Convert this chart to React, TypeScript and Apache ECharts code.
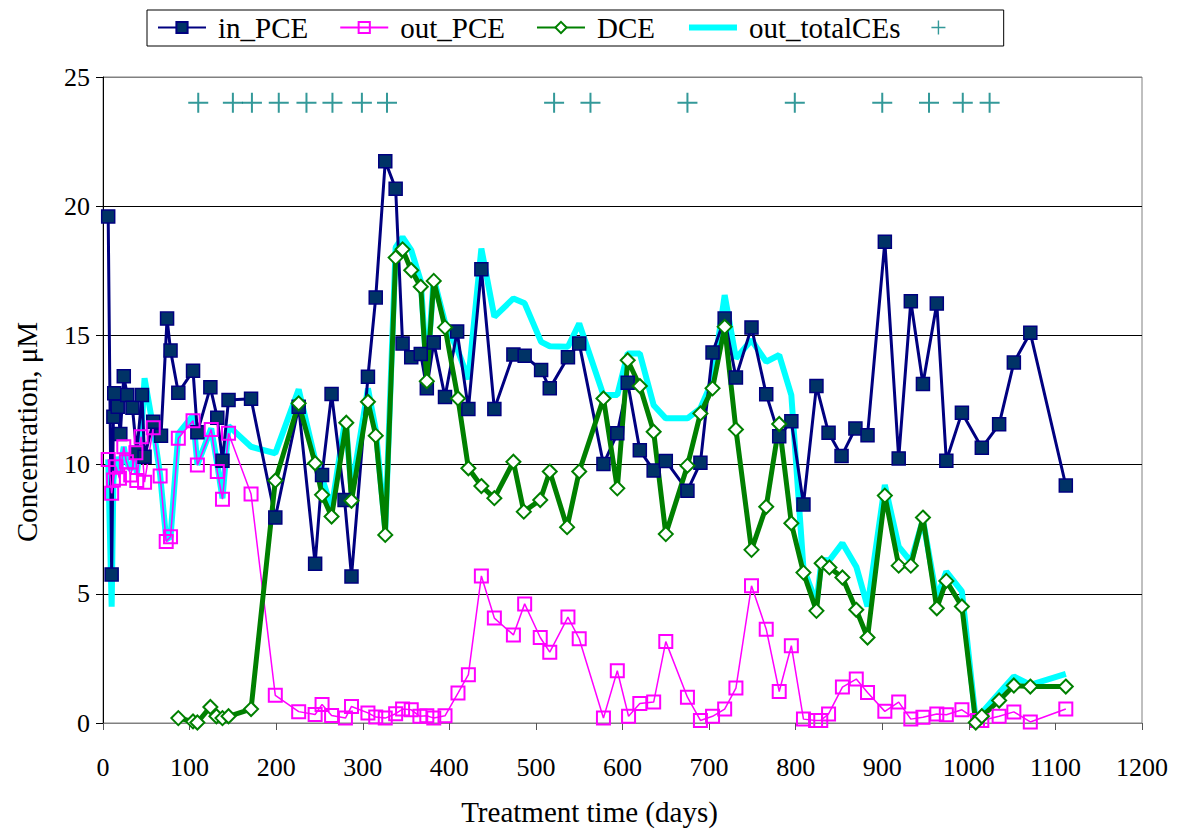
import React, { useEffect, useRef } from "react";
import * as echarts from "echarts";

// Influent PCE concentration [day, µM]
const inPCE: [number, number][] = [
  [6, 19.6], [10, 5.75], [12, 11.85], [13, 12.76], [17, 12.24], [20, 11.18], [24, 13.42], [28, 12.69],
  [34, 12.2], [39, 10.46], [45, 12.69], [48, 10.3], [58, 11.66], [67, 11.12], [74, 15.65], [78, 14.42],
  [87, 12.78], [104, 13.63], [109, 11.25], [124, 12.99], [132, 11.81], [138, 10.15], [145, 12.5],
  [171, 12.55], [199, 7.95], [226, 12.24], [245, 6.16], [253, 9.6], [264, 12.73], [279, 8.63],
  [287, 5.67], [306, 13.4], [315, 16.47], [326, 21.74], [338, 20.68], [346, 14.69], [356, 14.15],
  [367, 14.28], [374, 12.95], [382, 14.73], [395, 12.62], [409, 15.15], [422, 12.15], [437, 17.56],
  [452, 12.15], [474, 14.26], [487, 14.21], [506, 13.66], [516, 12.95], [537, 14.15], [550, 14.69],
  [578, 10.02], [594, 11.21], [606, 13.17], [620, 10.56], [636, 9.77], [650, 10.14], [675, 8.99],
  [690, 10.07], [704, 14.34], [718, 15.65], [731, 13.37], [749, 15.31], [766, 12.72], [781, 11.1],
  [795, 11.68], [809, 8.46], [824, 13.04], [838, 11.23], [853, 10.33], [869, 11.4], [883, 11.14],
  [903, 18.62], [919, 10.24], [933, 16.32], [947, 13.12], [963, 16.23], [974, 10.15], [992, 12.01],
  [1015, 10.65], [1035, 11.56], [1052, 13.95], [1071, 15.1], [1112, 9.19],
];

// Effluent PCE concentration [day, µM]
const outPCE: [number, number][] = [
  [6, 10.2], [10, 8.89], [12, 9.4], [15, 9.92], [19, 9.47], [24, 10.69], [27, 10.11], [32, 9.6],
  [38, 10.46], [39, 9.38], [44, 11.08], [48, 9.32], [58, 11.43], [66, 9.56], [73, 7.02], [78, 7.21],
  [87, 11.02], [104, 11.7], [109, 9.98], [125, 11.36], [132, 9.73], [138, 8.66], [145, 11.21],
  [171, 8.86], [199, 1.07], [226, 0.44], [245, 0.33], [253, 0.72], [264, 0.29], [280, 0.19],
  [287, 0.64], [306, 0.39], [315, 0.23], [326, 0.19], [338, 0.36], [346, 0.54], [356, 0.51],
  [366, 0.26], [374, 0.28], [382, 0.19], [395, 0.28], [410, 1.16], [422, 1.87], [437, 5.69],
  [452, 4.06], [474, 3.41], [487, 4.61], [505, 3.31], [516, 2.74], [537, 4.1], [550, 3.26],
  [578, 0.19], [594, 2.02], [607, 0.26], [620, 0.75], [636, 0.81], [650, 3.15], [675, 1.0],
  [690, 0.1], [704, 0.26], [718, 0.54], [731, 1.35], [749, 5.31], [766, 3.63], [781, 1.22],
  [795, 2.99], [809, 0.15], [823, 0.1], [829, 0.1], [838, 0.35], [854, 1.39], [870, 1.7],
  [883, 1.18], [903, 0.45], [919, 0.81], [933, 0.15], [947, 0.22], [963, 0.35], [974, 0.32],
  [992, 0.51], [1010, 0.1], [1015, 0.1], [1035, 0.26], [1052, 0.43], [1071, 0.04], [1112, 0.54],
];

// DCE concentration [day, µM]
const dce: [number, number][] = [
  [87, 0.19], [104, 0.06], [109, 0.02], [124, 0.62], [131, 0.26], [138, 0.19], [145, 0.26],
  [171, 0.54], [199, 9.38], [226, 12.37], [245, 10.05], [253, 8.83], [264, 7.99], [281, 11.62],
  [287, 8.6], [306, 12.43], [315, 11.12], [326, 7.28], [338, 18.01], [346, 18.33], [356, 17.52],
  [367, 16.88], [374, 13.23], [382, 17.11], [395, 15.31], [410, 12.56], [422, 9.86], [437, 9.17],
  [452, 8.7], [474, 10.11], [486, 8.18], [505, 8.63], [516, 9.73], [536, 7.58], [550, 9.73],
  [578, 12.56], [594, 9.08], [606, 14.04], [620, 13.04], [636, 11.27], [650, 7.31], [675, 9.96],
  [690, 11.98], [704, 12.95], [718, 15.33], [731, 11.36], [749, 6.7], [766, 8.37], [781, 11.57],
  [795, 7.73], [809, 5.82], [824, 4.34], [830, 6.18], [839, 6.02], [854, 5.63], [870, 4.38],
  [883, 3.31], [903, 8.8], [919, 6.09], [933, 6.09], [947, 7.95], [963, 4.44], [974, 5.5],
  [992, 4.51], [1008, 0.02], [1015, 0.26], [1035, 0.87], [1052, 1.45], [1071, 1.41], [1112, 1.41],
];

// Effluent total chlorinated ethenes [day, µM]
const outTotalCEs: [number, number][] = [
  [6, 10.2], [10, 4.5], [12, 9.4], [15, 10.3], [19, 9.7], [24, 10.69], [27, 10.11], [32, 9.8],
  [38, 10.5], [39, 9.6], [44, 11.1], [48, 13.34], [58, 11.43], [66, 9.6], [73, 7.1], [78, 7.2],
  [87, 11.2], [104, 11.9], [109, 10.0], [125, 11.4], [132, 10.0], [138, 8.7], [145, 11.5],
  [171, 10.69], [199, 10.44], [226, 12.91], [245, 10.2], [253, 9.5], [264, 8.3], [280, 11.8],
  [287, 9.0], [306, 12.95], [315, 11.35], [326, 7.47], [338, 18.4], [346, 18.8], [356, 18.3],
  [367, 17.1], [374, 13.5], [382, 17.2], [395, 15.5], [410, 14.4], [422, 13.3], [437, 18.36],
  [452, 15.72], [474, 16.43], [487, 16.24], [506, 14.75], [516, 14.58], [537, 14.56], [550, 15.46],
  [578, 12.69], [594, 12.69], [606, 14.3], [620, 14.3], [636, 12.3], [650, 11.79], [675, 11.79],
  [690, 12.18], [704, 13.27], [718, 16.56], [731, 14.11], [749, 14.82], [766, 13.98], [781, 14.24],
  [795, 12.69], [809, 5.99], [824, 4.64], [830, 6.31], [839, 6.3], [854, 6.96], [870, 6.05],
  [883, 4.51], [903, 9.21], [919, 6.83], [933, 6.25], [947, 7.86], [963, 4.83], [974, 5.86],
  [992, 5.09], [1008, 0.1], [1015, 0.4], [1035, 1.16], [1052, 1.8], [1071, 1.48], [1112, 1.9],
];

// Marker row of event days, plotted at a constant level
const eventDays: number[] = [110, 150, 172, 203, 235, 265, 299, 328, 521, 563, 675, 799, 900, 954, 993, 1024];
const eventLevel = 24;

const FONT = "'Liberation Serif', 'Times New Roman', serif";
const PLUS = "path://M9,0H11V9H20V11H11V20H9V11H0V9H9Z";

export default function App() {
  const ref = useRef<HTMLDivElement>(null);

  useEffect(() => {
    if (!ref.current) return;
    const chart = echarts.init(ref.current, undefined, { renderer: "svg" });
    chart.setOption({
      animation: false,
      backgroundColor: "#fff",
      textStyle: { fontFamily: FONT, color: "#000" },
      grid: {
        left: 103,
        right: 36,
        top: 77,
        bottom: 109,
        show: true,
        borderColor: "#808080",
        borderWidth: 1,
      },
      legend: {
        left: 147,
        top: 10,
        padding: [3, 22, 4, 10],
        itemGap: 31,
        itemWidth: 48,
        itemHeight: 14,
        borderColor: "#000",
        borderWidth: 1,
        backgroundColor: "#fff",
        textStyle: { fontFamily: FONT, fontSize: 29, color: "#000", padding: [0, 0, 0, 7] },
        data: [
          "in_PCE",
          "out_PCE",
          "DCE",
          {
            name: "out_totalCEs",
            itemStyle: { color: "rgba(0,0,0,0)", borderColor: "rgba(0,0,0,0)", borderWidth: 0 },
            lineStyle: { color: "#00FFFF", width: 6 },
          },
          " ",
        ],
      },
      xAxis: {
        type: "value",
        min: 0,
        max: 1200,
        interval: 100,
        name: "Treatment time (days)",
        nameLocation: "middle",
        nameGap: 74,
        nameTextStyle: { fontFamily: FONT, fontSize: 29, color: "#000", padding: [0, 66, 0, 0] },
        axisLine: { lineStyle: { color: "#808080", width: 1 } },
        axisTick: { show: true, length: 7, lineStyle: { color: "#555" } },
        axisLabel: {
          fontFamily: FONT,
          fontSize: 26,
          color: "#000",
          margin: 31,
          formatter: (v: number) => String(v),
        },
        splitLine: { show: false },
      },
      yAxis: {
        type: "value",
        min: 0,
        max: 25,
        interval: 5,
        name: "Concentration, \u03bcM",
        nameLocation: "middle",
        nameGap: 62,
        nameTextStyle: { fontFamily: FONT, fontSize: 29, color: "#000", padding: [0, 64, 0, 0] },
        axisLine: { show: true, lineStyle: { color: "#000", width: 1 } },
        axisTick: { show: true, length: 7, lineStyle: { color: "#000" } },
        axisLabel: { fontFamily: FONT, fontSize: 26, color: "#000", margin: 13 },
        splitLine: {
          show: true,
          lineStyle: { color: ["#808080", "#000", "#000", "#000", "#000", "#808080"], width: 1 },
        },
      },
      series: [
        {
          name: "out_totalCEs",
          type: "line",
          data: outTotalCEs,
          symbol: "none",
          lineStyle: { color: "#00FFFF", width: 6 },
          itemStyle: { color: "#00FFFF" },
        },
        {
          name: "in_PCE",
          type: "line",
          data: inPCE,
          symbol: "rect",
          symbolSize: 13,
          lineStyle: { color: "#000080", width: 3 },
          itemStyle: { color: "#003366", borderColor: "#000080", borderWidth: 1.5 },
        },
        {
          name: "out_PCE",
          type: "line",
          data: outPCE,
          symbol: "rect",
          symbolSize: 13,
          lineStyle: { color: "#FF00FF", width: 1.5 },
          itemStyle: { color: "rgba(255,255,255,0)", borderColor: "#FF00FF", borderWidth: 2 },
        },
        {
          name: "DCE",
          type: "line",
          data: dce,
          symbol: "diamond",
          symbolSize: 14,
          lineStyle: { color: "#008000", width: 5 },
          itemStyle: { color: "#fff", borderColor: "#008000", borderWidth: 2 },
        },
        {
          name: " ",
          type: "scatter",
          data: eventDays.map((d) => [d, eventLevel]),
          symbol: PLUS,
          symbolSize: 20,
          itemStyle: { color: "#008080" },
        },
      ],
    });
    return () => chart.dispose();
  }, []);

  return (
    <div
      ref={ref}
      style={{ position: "absolute", left: 0, top: 0, width: 1178, height: 832 }}
    />
  );
}
